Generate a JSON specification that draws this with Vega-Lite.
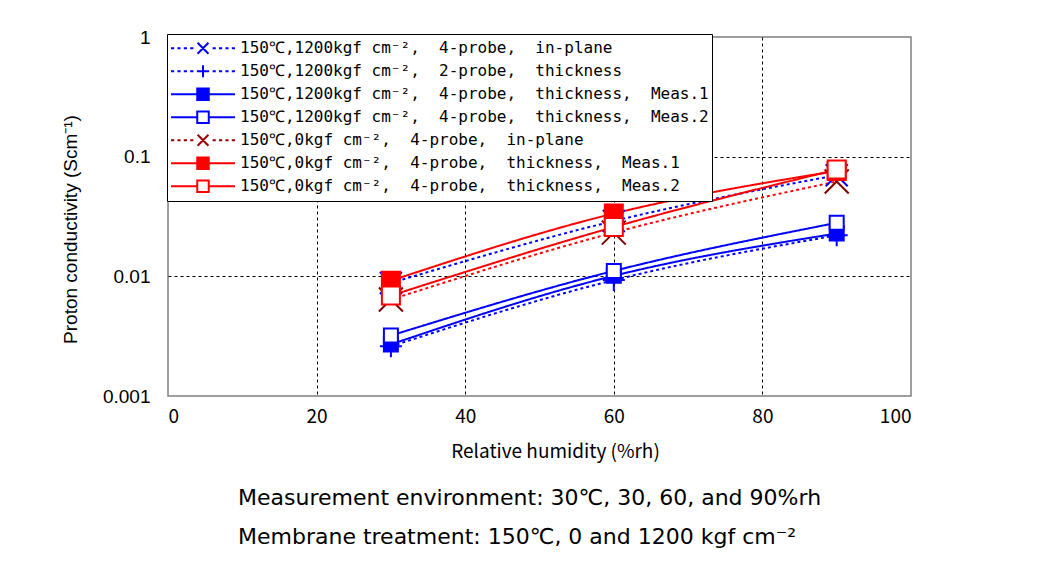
{
  "$schema": "https://vega.github.io/schema/vega-lite/v6.json",
  "width": 743,
  "height": 359,
  "autosize": {"type": "none"},
  "padding": {"left": 168, "top": 37, "right": 148, "bottom": 191},
  "background": "white",
  "config": {
    "view": {"stroke": "#808080", "strokeWidth": 1.5},
    "axis": {
      "domain": false,
      "ticks": false,
      "grid": true,
      "gridColor": "black",
      "gridDash": [3, 3],
      "gridWidth": 1,
      "labelColor": "black",
      "titleColor": "black",
      "titleFontWeight": "normal"
    }
  },
  "title": {
    "text": ["Measurement environment: 30℃, 30, 60, and 90%rh", "Membrane treatment: 150℃, 0 and 1200 kgf cm⁻²"],
    "orient": "bottom",
    "anchor": "start",
    "frame": "group",
    "dx": 70,
    "offset": 27,
    "font": "DejaVu Sans",
    "fontSize": 22,
    "fontWeight": "normal",
    "lineHeight": 39,
    "color": "black"
  },
  "data": {
    "values": [
      {"series": "150℃,1200kgf cm⁻²,\u00a0 4-probe,\u00a0 in-plane", "rh": 30, "sigma": 0.0088},
      {"series": "150℃,1200kgf cm⁻²,\u00a0 4-probe,\u00a0 in-plane", "rh": 60, "sigma": 0.029},
      {"series": "150℃,1200kgf cm⁻²,\u00a0 4-probe,\u00a0 in-plane", "rh": 90, "sigma": 0.07},
      {"series": "150℃,1200kgf cm⁻²,\u00a0 2-probe,\u00a0 thickness", "rh": 30, "sigma": 0.0026},
      {"series": "150℃,1200kgf cm⁻²,\u00a0 2-probe,\u00a0 thickness", "rh": 60, "sigma": 0.0093},
      {"series": "150℃,1200kgf cm⁻²,\u00a0 2-probe,\u00a0 thickness", "rh": 90, "sigma": 0.022},
      {"series": "150℃,1200kgf cm⁻²,\u00a0 4-probe,\u00a0 thickness,\u00a0 Meas.1", "rh": 30, "sigma": 0.0027},
      {"series": "150℃,1200kgf cm⁻²,\u00a0 4-probe,\u00a0 thickness,\u00a0 Meas.1", "rh": 60, "sigma": 0.0101},
      {"series": "150℃,1200kgf cm⁻²,\u00a0 4-probe,\u00a0 thickness,\u00a0 Meas.1", "rh": 90, "sigma": 0.0228},
      {"series": "150℃,1200kgf cm⁻²,\u00a0 4-probe,\u00a0 thickness,\u00a0 Meas.2", "rh": 30, "sigma": 0.0032},
      {"series": "150℃,1200kgf cm⁻²,\u00a0 4-probe,\u00a0 thickness,\u00a0 Meas.2", "rh": 60, "sigma": 0.0111},
      {"series": "150℃,1200kgf cm⁻²,\u00a0 4-probe,\u00a0 thickness,\u00a0 Meas.2", "rh": 90, "sigma": 0.028},
      {"series": "150℃,0kgf cm⁻²,\u00a0 4-probe,\u00a0 in-plane", "rh": 30, "sigma": 0.0064},
      {"series": "150℃,0kgf cm⁻²,\u00a0 4-probe,\u00a0 in-plane", "rh": 60, "sigma": 0.0232},
      {"series": "150℃,0kgf cm⁻²,\u00a0 4-probe,\u00a0 in-plane", "rh": 90, "sigma": 0.062},
      {"series": "150℃,0kgf cm⁻²,\u00a0 4-probe,\u00a0 thickness,\u00a0 Meas.1", "rh": 30, "sigma": 0.0092},
      {"series": "150℃,0kgf cm⁻²,\u00a0 4-probe,\u00a0 thickness,\u00a0 Meas.1", "rh": 60, "sigma": 0.0335},
      {"series": "150℃,0kgf cm⁻²,\u00a0 4-probe,\u00a0 thickness,\u00a0 Meas.1", "rh": 90, "sigma": 0.076},
      {"series": "150℃,0kgf cm⁻²,\u00a0 4-probe,\u00a0 thickness,\u00a0 Meas.2", "rh": 30, "sigma": 0.0069},
      {"series": "150℃,0kgf cm⁻²,\u00a0 4-probe,\u00a0 thickness,\u00a0 Meas.2", "rh": 60, "sigma": 0.0258},
      {"series": "150℃,0kgf cm⁻²,\u00a0 4-probe,\u00a0 thickness,\u00a0 Meas.2", "rh": 90, "sigma": 0.078}
    ]
  },
  "encoding": {
    "x": {
      "field": "rh",
      "type": "quantitative",
      "scale": {"domain": [0, 100], "nice": false, "zero": false},
      "axis": {
        "title": "Relative humidity (%rh)",
        "values": [0, 20, 40, 60, 80, 100],
        "labelFont": "Noto Sans CJK JP",
        "labelFontSize": 19,
        "labelPadding": 11,
        "titleFont": "Noto Sans CJK JP",
        "titleFontSize": 19,
        "titlePadding": 16,
        "titleX": 387,
        "gridOpacity": {"condition": {"test": "datum.value == 0 || datum.value == 100", "value": 0}, "value": 1}
      }
    },
    "y": {
      "field": "sigma",
      "type": "quantitative",
      "scale": {"type": "log", "domain": [0.001, 1], "nice": false},
      "axis": {
        "title": "Proton conductivity (Scm⁻¹)",
        "values": [0.001, 0.01, 0.1, 1],
        "format": "~g",
        "labelFont": "Liberation Sans",
        "labelFontSize": 19,
        "labelPadding": 18,
        "titleFont": "Liberation Sans",
        "titleFontSize": 19,
        "titlePadding": 22,
        "titleY": 192,
        "gridOpacity": {"condition": {"test": "datum.value == 1 || datum.value == 0.001", "value": 0}, "value": 1}
      }
    }
  },
  "layer": [
    {
      "mark": {"type": "line", "strokeWidth": 2, "interpolate": "monotone"},
      "encoding": {
        "stroke": {
          "field": "series",
          "type": "nominal",
          "scale": {
            "domain": ["150℃,1200kgf cm⁻²,\u00a0 4-probe,\u00a0 in-plane", "150℃,1200kgf cm⁻²,\u00a0 2-probe,\u00a0 thickness", "150℃,1200kgf cm⁻²,\u00a0 4-probe,\u00a0 thickness,\u00a0 Meas.1", "150℃,1200kgf cm⁻²,\u00a0 4-probe,\u00a0 thickness,\u00a0 Meas.2", "150℃,0kgf cm⁻²,\u00a0 4-probe,\u00a0 in-plane", "150℃,0kgf cm⁻²,\u00a0 4-probe,\u00a0 thickness,\u00a0 Meas.1", "150℃,0kgf cm⁻²,\u00a0 4-probe,\u00a0 thickness,\u00a0 Meas.2"],
            "range": ["#0000ff", "#0000ff", "#0000ff", "#0000ff", "#ff0000", "#ff0000", "#ff0000"]
          },
          "legend": null
        },
        "strokeDash": {
          "field": "series",
          "type": "nominal",
          "scale": {
            "domain": ["150℃,1200kgf cm⁻²,\u00a0 4-probe,\u00a0 in-plane", "150℃,1200kgf cm⁻²,\u00a0 2-probe,\u00a0 thickness", "150℃,1200kgf cm⁻²,\u00a0 4-probe,\u00a0 thickness,\u00a0 Meas.1", "150℃,1200kgf cm⁻²,\u00a0 4-probe,\u00a0 thickness,\u00a0 Meas.2", "150℃,0kgf cm⁻²,\u00a0 4-probe,\u00a0 in-plane", "150℃,0kgf cm⁻²,\u00a0 4-probe,\u00a0 thickness,\u00a0 Meas.1", "150℃,0kgf cm⁻²,\u00a0 4-probe,\u00a0 thickness,\u00a0 Meas.2"],
            "range": [[3, 3], [3, 3], [1, 0], [1, 0], [3, 3], [1, 0], [1, 0]]
          },
          "legend": null
        }
      }
    },
    {
      "mark": {"type": "point", "size": 400, "strokeWidth": 2, "opacity": 1, "filled": true},
      "encoding": {
        "shape": {
          "field": "series",
          "type": "nominal",
          "scale": {
            "domain": ["150℃,1200kgf cm⁻²,\u00a0 4-probe,\u00a0 in-plane", "150℃,1200kgf cm⁻²,\u00a0 2-probe,\u00a0 thickness", "150℃,1200kgf cm⁻²,\u00a0 4-probe,\u00a0 thickness,\u00a0 Meas.1", "150℃,1200kgf cm⁻²,\u00a0 4-probe,\u00a0 thickness,\u00a0 Meas.2", "150℃,0kgf cm⁻²,\u00a0 4-probe,\u00a0 in-plane", "150℃,0kgf cm⁻²,\u00a0 4-probe,\u00a0 thickness,\u00a0 Meas.1", "150℃,0kgf cm⁻²,\u00a0 4-probe,\u00a0 thickness,\u00a0 Meas.2"],
            "range": ["M-1.1,-1.1L1.1,1.1M-1.1,1.1L1.1,-1.1", "M-1.1,0H1.1M0,-1.1V1.1", "M-0.7,-0.7H0.7V0.7H-0.7Z", "M-0.7,-0.7H0.7V0.7H-0.7Z", "M-1.2,-1.2L1.2,1.2M-1.2,1.2L1.2,-1.2", "M-0.9,-0.9H0.9V0.9H-0.9Z", "M-0.9,-0.9H0.9V0.9H-0.9Z"]
          },
          "legend": null
        },
        "stroke": {
          "field": "series",
          "type": "nominal",
          "scale": {
            "domain": ["150℃,1200kgf cm⁻²,\u00a0 4-probe,\u00a0 in-plane", "150℃,1200kgf cm⁻²,\u00a0 2-probe,\u00a0 thickness", "150℃,1200kgf cm⁻²,\u00a0 4-probe,\u00a0 thickness,\u00a0 Meas.1", "150℃,1200kgf cm⁻²,\u00a0 4-probe,\u00a0 thickness,\u00a0 Meas.2", "150℃,0kgf cm⁻²,\u00a0 4-probe,\u00a0 in-plane", "150℃,0kgf cm⁻²,\u00a0 4-probe,\u00a0 thickness,\u00a0 Meas.1", "150℃,0kgf cm⁻²,\u00a0 4-probe,\u00a0 thickness,\u00a0 Meas.2"],
            "range": ["#0000ff", "#0000ff", "#0000ff", "#0000ff", "#800000", "#ff0000", "#ff0000"]
          },
          "legend": null
        },
        "fill": {
          "field": "series",
          "type": "nominal",
          "scale": {
            "domain": ["150℃,1200kgf cm⁻²,\u00a0 4-probe,\u00a0 in-plane", "150℃,1200kgf cm⁻²,\u00a0 2-probe,\u00a0 thickness", "150℃,1200kgf cm⁻²,\u00a0 4-probe,\u00a0 thickness,\u00a0 Meas.1", "150℃,1200kgf cm⁻²,\u00a0 4-probe,\u00a0 thickness,\u00a0 Meas.2", "150℃,0kgf cm⁻²,\u00a0 4-probe,\u00a0 in-plane", "150℃,0kgf cm⁻²,\u00a0 4-probe,\u00a0 thickness,\u00a0 Meas.1", "150℃,0kgf cm⁻²,\u00a0 4-probe,\u00a0 thickness,\u00a0 Meas.2"],
            "range": ["transparent", "transparent", "#0000ff", "#ffffff", "transparent", "#ff0000", "#ffffff"]
          },
          "legend": null
        }
      }
    },
    {
      "transform": [{"filter": "false"}],
      "mark": {"type": "point", "size": 4096, "strokeWidth": 2, "opacity": 1, "filled": true},
      "encoding": {
        "shape": {
          "field": "series",
          "type": "nominal",
          "scale": {
            "domain": ["150℃,1200kgf cm⁻²,\u00a0 4-probe,\u00a0 in-plane", "150℃,1200kgf cm⁻²,\u00a0 2-probe,\u00a0 thickness", "150℃,1200kgf cm⁻²,\u00a0 4-probe,\u00a0 thickness,\u00a0 Meas.1", "150℃,1200kgf cm⁻²,\u00a0 4-probe,\u00a0 thickness,\u00a0 Meas.2", "150℃,0kgf cm⁻²,\u00a0 4-probe,\u00a0 in-plane", "150℃,0kgf cm⁻²,\u00a0 4-probe,\u00a0 thickness,\u00a0 Meas.1", "150℃,0kgf cm⁻²,\u00a0 4-probe,\u00a0 thickness,\u00a0 Meas.2"],
            "range": [
              "M-1,0H-0.9M-0.8,0H-0.7M-0.6,0H-0.5M-0.4,0H-0.3M-0.17,-0.17L0.17,0.17M-0.17,0.17L0.17,-0.17M0.3,0H0.4M0.5,0H0.6M0.7,0H0.8M0.9,0H1",
              "M-1,0H-0.9M-0.8,0H-0.7M-0.6,0H-0.5M-0.4,0H-0.3M-0.19,0H0.19M0,-0.19V0.19M0.3,0H0.4M0.5,0H0.6M0.7,0H0.8M0.9,0H1",
              "M-1,0H-0.18M0.18,0H1M-0.18,-0.18H0.18V0.18H-0.18Z",
              "M-1,0H-0.18M0.18,0H1M-0.18,-0.18H0.18V0.18H-0.18Z",
              "M-1,0H-0.9M-0.8,0H-0.7M-0.6,0H-0.5M-0.4,0H-0.3M-0.17,-0.17L0.17,0.17M-0.17,0.17L0.17,-0.17M0.3,0H0.4M0.5,0H0.6M0.7,0H0.8M0.9,0H1",
              "M-1,0H-0.18M0.18,0H1M-0.18,-0.18H0.18V0.18H-0.18Z",
              "M-1,0H-0.18M0.18,0H1M-0.18,-0.18H0.18V0.18H-0.18Z"
            ]
          },
          "legend": {"orient": "none", "legendX": -1, "legendY": -3, "title": null, "fillColor": "white", "strokeColor": "black", "padding": 3, "symbolSize": 4096, "symbolStrokeWidth": 2, "labelFont": "DejaVu Sans Mono", "labelFontSize": 16, "labelColor": "black", "labelLimit": 0, "labelOffset": 4, "clipHeight": 22.5, "rowPadding": 0}
        },
        "stroke": {
          "field": "series",
          "type": "nominal",
          "scale": {
            "domain": ["150℃,1200kgf cm⁻²,\u00a0 4-probe,\u00a0 in-plane", "150℃,1200kgf cm⁻²,\u00a0 2-probe,\u00a0 thickness", "150℃,1200kgf cm⁻²,\u00a0 4-probe,\u00a0 thickness,\u00a0 Meas.1", "150℃,1200kgf cm⁻²,\u00a0 4-probe,\u00a0 thickness,\u00a0 Meas.2", "150℃,0kgf cm⁻²,\u00a0 4-probe,\u00a0 in-plane", "150℃,0kgf cm⁻²,\u00a0 4-probe,\u00a0 thickness,\u00a0 Meas.1", "150℃,0kgf cm⁻²,\u00a0 4-probe,\u00a0 thickness,\u00a0 Meas.2"],
            "range": ["#0000ff", "#0000ff", "#0000ff", "#0000ff", "#a00000", "#ff0000", "#ff0000"]
          },
          "legend": {"orient": "none", "legendX": -1, "legendY": -3, "title": null, "fillColor": "white", "strokeColor": "black", "padding": 3, "symbolSize": 4096, "symbolStrokeWidth": 2, "labelFont": "DejaVu Sans Mono", "labelFontSize": 16, "labelColor": "black", "labelLimit": 0, "labelOffset": 4, "clipHeight": 22.5, "rowPadding": 0}
        },
        "fill": {
          "field": "series",
          "type": "nominal",
          "scale": {
            "domain": ["150℃,1200kgf cm⁻²,\u00a0 4-probe,\u00a0 in-plane", "150℃,1200kgf cm⁻²,\u00a0 2-probe,\u00a0 thickness", "150℃,1200kgf cm⁻²,\u00a0 4-probe,\u00a0 thickness,\u00a0 Meas.1", "150℃,1200kgf cm⁻²,\u00a0 4-probe,\u00a0 thickness,\u00a0 Meas.2", "150℃,0kgf cm⁻²,\u00a0 4-probe,\u00a0 in-plane", "150℃,0kgf cm⁻²,\u00a0 4-probe,\u00a0 thickness,\u00a0 Meas.1", "150℃,0kgf cm⁻²,\u00a0 4-probe,\u00a0 thickness,\u00a0 Meas.2"],
            "range": ["transparent", "transparent", "#0000ff", "#ffffff", "transparent", "#ff0000", "#ffffff"]
          },
          "legend": {"orient": "none", "legendX": -1, "legendY": -3, "title": null, "fillColor": "white", "strokeColor": "black", "padding": 3, "symbolSize": 4096, "symbolStrokeWidth": 2, "labelFont": "DejaVu Sans Mono", "labelFontSize": 16, "labelColor": "black", "labelLimit": 0, "labelOffset": 4, "clipHeight": 22.5, "rowPadding": 0}
        }
      }
    }
  ],
  "resolve": {"scale": {"stroke": "independent", "fill": "independent", "shape": "independent", "strokeDash": "independent"}}
}
